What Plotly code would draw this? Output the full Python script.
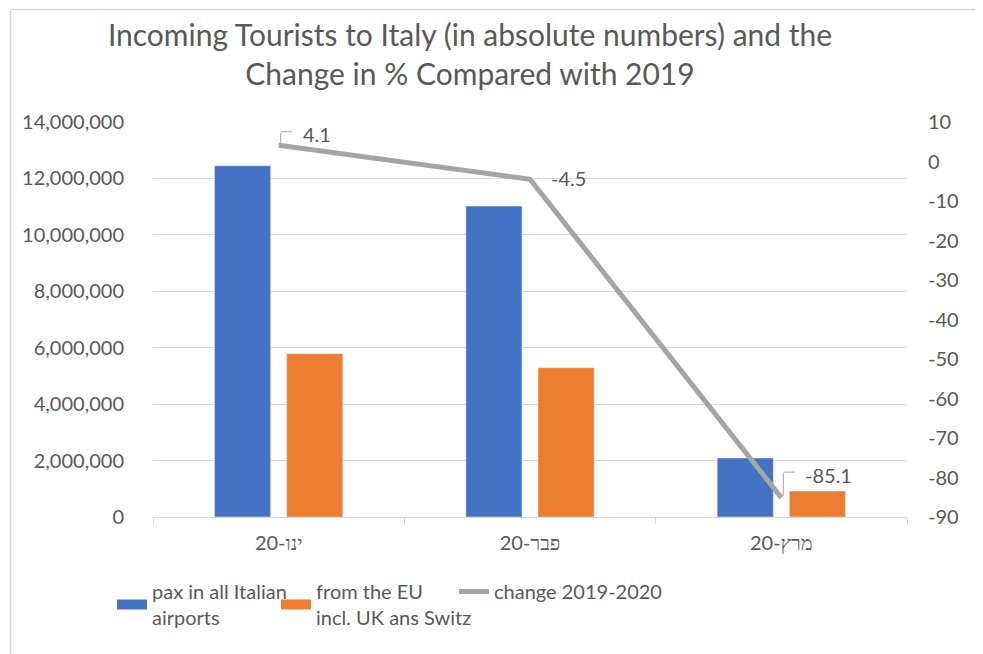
import plotly.graph_objects as go

months = ["ינו-20", "פבר-20", "מרץ-20"]
pax_all = [12450000, 11020000, 2090000]
pax_eu = [5790000, 5290000, 920000]
change_pct = [4.1, -4.5, -85.1]
right_ticks = [10, 0, -10, -20, -30, -40, -50, -60, -70, -80, -90]
right_tick_labels = ["10", "0", "-10", "-20", "-30", "-40", "-50", "-60", "-70", "-80", "-90"]

name_all = "pax in all Italian<br>airports"
name_eu = "from the EU<br>incl. UK ans Switz"
name_chg = "change 2019-2020"

BLUE = "#4472C4"
ORANGE = "#ED7D31"
GRAY = "#A5A5A5"
TXT = "#595959"
GRID = "#D9D9D9"
FONT = "Lato"

# page has an 8px body margin: figure coords = page coords - 8
W, H = 975, 646
ML, MR, MT, MB = 145, 76, 114, 137
PW, PH = W - ML - MR, H - MT - MB

fig = go.Figure()
fig.add_trace(go.Bar(x=months, y=pax_all, name=name_all, marker_color=BLUE,
                     yaxis="y", showlegend=False, legendgroup="a"))
fig.add_trace(go.Bar(x=months, y=pax_eu, name=name_eu, marker_color=ORANGE,
                     yaxis="y", showlegend=False, legendgroup="b"))
fig.add_trace(go.Scatter(x=months, y=change_pct, name=name_chg, mode="lines",
                         line=dict(color=GRAY, width=5), yaxis="y2",
                         showlegend=False, legendgroup="c"))
# legend swatches (wide rectangles like the original), one legend per entry
fig.add_trace(go.Scatter(x=[months[0]], y=[None], name=name_all, mode="lines",
                         line=dict(color=BLUE, width=12), legendgroup="a", legend="legend"))
fig.add_trace(go.Scatter(x=[months[0]], y=[None], name=name_eu, mode="lines",
                         line=dict(color=ORANGE, width=12), legendgroup="b", legend="legend2"))
fig.add_trace(go.Scatter(x=[months[0]], y=[None], name=name_chg, mode="lines",
                         line=dict(color=GRAY, width=5), legendgroup="c", legend="legend3"))

# data labels with leader lines: (text offset x, offset y, leader up, leader right, leader?)
label_cfg = [(38, -11, 12, 13, True), (38, -1, 0, 0, False), (47, -23, 24, 13, True)]
annotations = []
for m, v, (dx, dy, up, right, leader) in zip(months, change_pct, label_cfg):
    annotations.append(dict(x=m, y=v, xref="x", yref="y2", text=f"{v:.1f}",
                            showarrow=False, xshift=dx, yshift=-dy,
                            font=dict(family=FONT, size=20, color=TXT)))
    if leader:
        annotations.append(dict(x=m, y=v, xref="x", yref="y2", text="", showarrow=True,
                                arrowhead=0, arrowwidth=1, arrowcolor=GRAY,
                                ax=0, ay=-up, xshift=2, yshift=2))
        annotations.append(dict(x=m, y=v, xref="x", yref="y2", text="", showarrow=True,
                                arrowhead=0, arrowwidth=1, arrowcolor=GRAY,
                                ax=right, ay=0, xshift=2, yshift=up + 2 - 0.5))


def legend_at(page_x):
    return dict(orientation="h", x=(page_x - 8 - ML) / PW, xanchor="left",
                y=-(564 - MT - PH) / PH, yanchor="top",
                font=dict(family=FONT, size=20, color=TXT),
                bgcolor="rgba(0,0,0,0)")


fig.update_layout(
    width=W, height=H,
    margin=dict(l=ML, r=MR, t=MT, b=MB, autoexpand=False),
    paper_bgcolor="white", plot_bgcolor="white",
    font=dict(family=FONT, size=20, color=TXT),
    title=dict(text="Incoming Tourists to Italy (in absolute numbers) and the<br>Change in % Compared with 2019",
               x=462 / W, xanchor="center", xref="container",
               y=1 - 37.5 / H, yanchor="middle", yref="container",
               font=dict(family=FONT, size=30, color=TXT)),
    barmode="group", bargap=0.426, bargroupgap=0.222,
    showlegend=True,
    legend=legend_at(112),
    legend2=legend_at(276),
    legend3=legend_at(454),
    xaxis=dict(type="category", showline=True, linecolor=GRID, linewidth=1,
               ticks="outside", tickson="boundaries", ticklen=6, tickcolor=GRID,
               showgrid=False, ticklabelstandoff=8,
               tickfont=dict(family=FONT, size=20, color=TXT)),
    yaxis=dict(range=[0, 14000000], dtick=2000000, tickformat=",d",
               showgrid=True, gridcolor=GRID, gridwidth=1, zeroline=False,
               showline=False, ticks="", ticklabelstandoff=28,
               tickfont=dict(family=FONT, size=20, color=TXT)),
    yaxis2=dict(range=[-90, 10], tickmode="array", tickvals=right_ticks,
                ticktext=right_tick_labels, overlaying="y", side="right",
                showgrid=False, zeroline=False, showline=False, ticks="",
                ticklabelstandoff=20,
                tickfont=dict(family=FONT, size=20, color=TXT)),
    annotations=annotations,
    shapes=[
        dict(type="line", xref="paper", yref="paper",
             x0=(2 - ML) / PW, x1=(W + 5 - ML) / PW,
             y0=1 + (MT - 1.5) / PH, y1=1 + (MT - 1.5) / PH,
             line=dict(color=GRID, width=1.5)),
        dict(type="line", xref="paper", yref="paper",
             x0=(2.5 - ML) / PW, x1=(2.5 - ML) / PW,
             y0=1 + (MT - 1.5) / PH, y1=-(H + 5 - MT - PH) / PH,
             line=dict(color=GRID, width=1.5)),
    ],
)

fig.write_html("out.html")
